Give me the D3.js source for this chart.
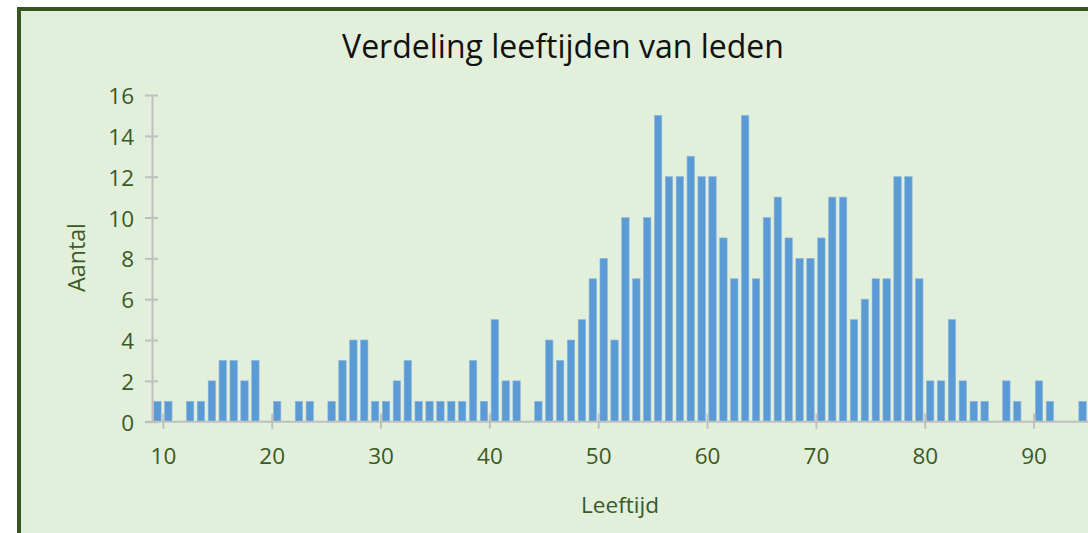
<!DOCTYPE html>
<html>
<head>
<meta charset="utf-8">
<script src="https://cdn.jsdelivr.net/npm/d3@7"></script>
<style>
  html, body { margin: 0; padding: 0; background: #ffffff; overflow: hidden; }
  svg { display: block; }
</style>
</head>
<body>
<svg id="chart" width="1088" height="533"></svg>
<script>
// ---- data ----
const title = "Verdeling leeftijden van leden";
const xTitle = "Leeftijd";
const yTitle = "Aantal";
// bin start ages (each bar covers [age, age+1))
const ages = d3.range(9, 95);
const counts = [
  1, 1, 0, 1, 1, 2, 3, 3, 2, 3,      // 9-18
  0, 1, 0, 1, 1, 0, 1, 3, 4, 4,      // 19-28
  1, 1, 2, 3, 1, 1, 1, 1, 1, 3,      // 29-38
  1, 5, 2, 2, 0, 1, 4, 3, 4, 5,      // 39-48
  7, 8, 4, 10, 7, 10, 15, 12, 12, 13, // 49-58
  12, 12, 9, 7, 15, 7, 10, 11, 9, 8,  // 59-68
  8, 9, 11, 11, 5, 6, 7, 7, 12, 12,   // 69-78
  7, 2, 2, 5, 2, 1, 1, 0, 2, 1,       // 79-88
  0, 2, 1, 0, 0, 1                    // 89-94
];
const xTicks = [10, 20, 30, 40, 50, 60, 70, 80, 90];
const yTicks = [0, 2, 4, 6, 8, 10, 12, 14, 16];

const data = ages.map((a, i) => ({ age: a, count: counts[i] }));

// ---- layout ----
const svg = d3.select("#chart");
const FONT = "'Open Sans', 'Noto Sans', sans-serif";
const axisColor = "#BFBFBF";
const labelColor = "#3A5A26";
const tickFont = 22.5;

// frame
svg.append("rect")
  .attr("x", 19).attr("y", 9)
  .attr("width", 1200).attr("height", 600)
  .attr("fill", "#E2EFDA")
  .attr("stroke", "#375623")
  .attr("stroke-width", 4);

const x = d3.scaleLinear().domain([9, 95]).range([152, 1088]);
const y = d3.scaleLinear().domain([0, 16]).range([421.7, 95]);

function fit(sel, target) {
  const node = sel.node();
  const w = node.getComputedTextLength();
  const fs = parseFloat(sel.attr("font-size"));
  if (w > 0) sel.attr("font-size", (fs * target / w).toFixed(2));
}

// bars
const bw = 7.4;
svg.append("g").selectAll("rect")
  .data(data.filter(d => d.count > 0))
  .join("rect")
  .attr("x", d => x(d.age + 0.5) - bw / 2)
  .attr("width", bw)
  .attr("y", d => y(d.count))
  .attr("height", d => y(0) - y(d.count))
  .attr("fill", "#5B9BD5")
  .attr("stroke", "#8DB6DF")
  .attr("stroke-width", 0.6);

// y axis
const yAxis = svg.append("g")
  .attr("transform", `translate(${x(9)},0)`)
  .call(d3.axisLeft(y).tickValues(yTicks).tickSize(0).tickPadding(18));
yAxis.select(".domain").attr("stroke", axisColor).attr("stroke-width", 2);
yAxis.selectAll(".tick line").remove();
yAxis.selectAll(".tick").append("line")
  .attr("x1", -7).attr("x2", 6)
  .attr("stroke", axisColor).attr("stroke-width", 2);
yAxis.selectAll(".tick text")
  .attr("fill", labelColor)
  .attr("font-family", FONT)
  .attr("font-size", tickFont)
  .attr("dy", "0.38em");

// x axis
const xAxis = svg.append("g")
  .attr("transform", `translate(0,${y(0)})`)
  .call(d3.axisBottom(x).tickValues(xTicks).tickSize(0).tickPadding(42.5).tickFormat(d3.format("d")));
xAxis.select(".domain").remove();
xAxis.append("line")
  .attr("x1", x(9) - 7).attr("x2", 1088)
  .attr("stroke", axisColor).attr("stroke-width", 2);
xAxis.selectAll(".tick line").remove();
xAxis.selectAll(".tick").append("line")
  .attr("y1", -8).attr("y2", 7)
  .attr("stroke", axisColor).attr("stroke-width", 2);
xAxis.selectAll(".tick text")
  .attr("fill", labelColor)
  .attr("font-family", FONT)
  .attr("font-size", tickFont)
  .attr("dy", "0");

// title
const t = svg.append("text")
  .attr("x", 563).attr("y", 58)
  .attr("text-anchor", "middle")
  .attr("font-family", FONT)
  .attr("font-size", 28)
  .attr("fill", "#111111")
  .text(title);
fit(t, 442);

// axis titles
const xt = svg.append("text")
  .attr("x", 620).attr("y", 513)
  .attr("text-anchor", "middle")
  .attr("font-family", FONT)
  .attr("font-size", 21)
  .attr("fill", labelColor)
  .text(xTitle);
fit(xt, 78);

const yt = svg.append("text")
  .attr("transform", "translate(85,257.5) rotate(-90)")
  .attr("text-anchor", "middle")
  .attr("font-family", FONT)
  .attr("font-size", 21)
  .attr("fill", labelColor)
  .text(yTitle);
fit(yt, 69);
</script>
</body>
</html>
